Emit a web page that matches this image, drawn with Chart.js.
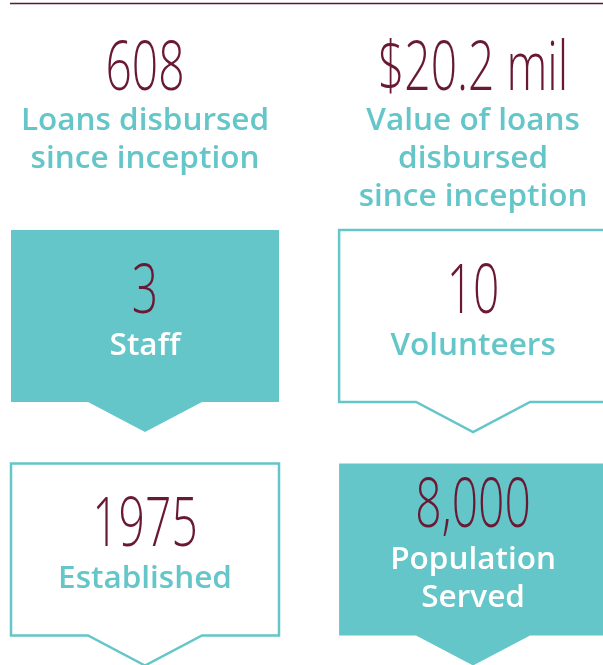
<!DOCTYPE html>
<html>
<head>
<meta charset="utf-8">
<script src="https://cdn.jsdelivr.net/npm/chart.js@4"></script>
<style>
  html, body { margin: 0; padding: 0; background: #fff; }
  #wrap { width: 603px; height: 665px; position: relative; }
</style>
</head>
<body>
<div id="wrap"><canvas id="chart"></canvas></div>
<script>
// stats, read left to right, top to bottom
const statValues = ['608', '$20.2 mil', '3', '10', '1975', '8,000'];
const statLabels = [
  ['Loans disbursed', 'since inception'],
  ['Value of loans', 'disbursed', 'since inception'],
  ['Staff'],
  ['Volunteers'],
  ['Established'],
  ['Population', 'Served']
];

const TEAL = '#64c6c8';
const MAROON = '#6a1935';

// grid cell for each stat: 2 columns
const cells = statValues.map((v, i) => ({ x: i % 2, y: Math.floor(i / 2) }));

function drawNumber(ctx, text, cx, baseline) {
  ctx.save();
  ctx.font = '300 68px "Open Sans"';
  ctx.fillStyle = MAROON;
  ctx.textAlign = 'center';
  ctx.textBaseline = 'alphabetic';
  ctx.translate(cx, baseline);
  ctx.scale(0.68, 1);
  ctx.fillText(text, 0, 0);
  ctx.restore();
}

function drawLabels(ctx, lines, cx, baseline, color) {
  ctx.save();
  ctx.font = '600 31.5px "Open Sans"';
  ctx.fillStyle = color;
  ctx.textAlign = 'center';
  ctx.textBaseline = 'alphabetic';
  lines.forEach((l, j) => ctx.fillText(l, cx, baseline + j * 38));
  ctx.restore();
}

function cardPath(ctx, cx, cy) {
  const w = 268, h = 172, notch = 57, depth = 30;
  const l = cx - w / 2, r = cx + w / 2, t = cy - h / 2, b = cy + h / 2;
  ctx.beginPath();
  ctx.moveTo(l, t);
  ctx.lineTo(r, t);
  ctx.lineTo(r, b);
  ctx.lineTo(cx + notch, b);
  ctx.lineTo(cx, b + depth);
  ctx.lineTo(cx - notch, b);
  ctx.lineTo(l, b);
  ctx.closePath();
}

const statCards = {
  id: 'statCards',
  afterDatasetsDraw(chart) {
    const ctx = chart.ctx;
    const pts = chart.getDatasetMeta(0).data;

    // rule across the top
    ctx.save();
    ctx.strokeStyle = '#5a1a30';
    ctx.lineWidth = 1.5;
    ctx.beginPath();
    ctx.moveTo(10, 3.5);
    ctx.lineTo(chart.width, 3.5);
    ctx.stroke();
    ctx.restore();

    pts.forEach((p, i) => {
      const row = cells[i].y, col = cells[i].x;
      const lines = statLabels[i];
      if (row === 0) {
        drawNumber(ctx, statValues[i], p.x, p.y + 7.5);
        drawLabels(ctx, lines, p.x, p.y + 47.5, TEAL);
        return;
      }
      const filled = (row + col) % 2 === 1;
      ctx.save();
      cardPath(ctx, p.x, p.y);
      if (filled) {
        ctx.fillStyle = TEAL;
        ctx.fill();
      } else {
        ctx.strokeStyle = TEAL;
        ctx.lineWidth = 2.5;
        ctx.stroke();
      }
      ctx.restore();
      const base = p.y - 3 - (lines.length - 1) * 19;
      drawNumber(ctx, statValues[i], p.x, base);
      drawLabels(ctx, lines, p.x, base + 42, filled ? '#ffffff' : TEAL);
    });
  }
};

new Chart(document.getElementById('chart'), {
  type: 'scatter',
  data: {
    datasets: [{
      data: cells,
      pointRadius: 0,
      pointHoverRadius: 0
    }]
  },
  options: {
    responsive: true,
    maintainAspectRatio: false,
    animation: false,
    layout: { padding: 0 },
    plugins: {
      legend: { display: false },
      tooltip: { enabled: false }
    },
    scales: {
      x: { display: false, min: -0.442, max: 1.396 },
      y: { display: false, reverse: true, min: -0.3533, max: 2.4947 }
    }
  },
  plugins: [statCards]
});
</script>
</body>
</html>
